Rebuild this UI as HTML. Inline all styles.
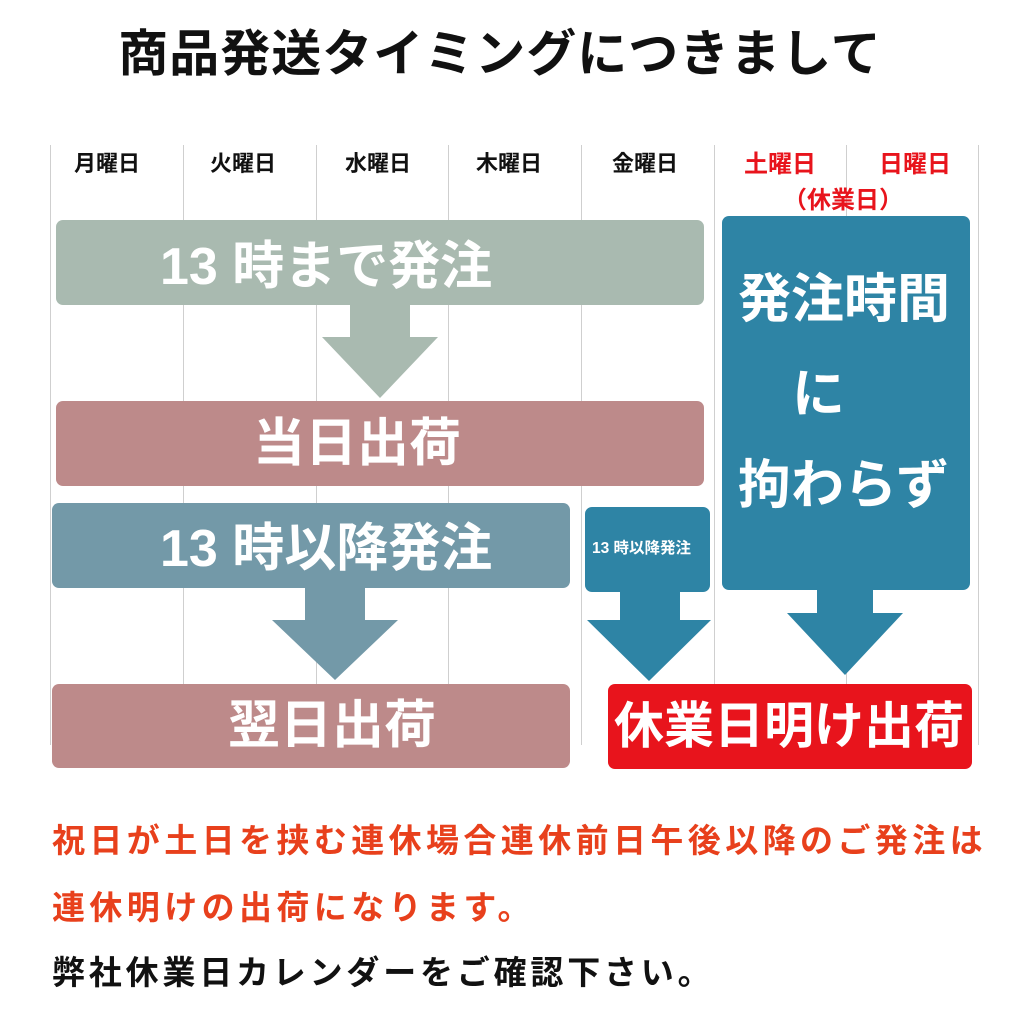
<!DOCTYPE html>
<html><head><meta charset="utf-8"><style>
body{margin:0;width:1029px;height:1029px;background:#fff;position:relative;overflow:hidden;font-family:"Liberation Sans","Noto Sans CJK JP",sans-serif;font-weight:bold}
.a{position:absolute}
.vl{position:absolute;top:145px;height:600px;width:1px;background:#cfcfcf}
.day{position:absolute;top:146px;font-size:22px;width:120px;text-align:center;color:#111}
.box{position:absolute;border-radius:7px;color:#fff}
.bt{position:absolute;white-space:nowrap;line-height:1}
.t{position:absolute;left:52px;font-size:33px;letter-spacing:4.4px;white-space:nowrap}
</style></head><body>
<div class="a" style="left:0;width:1000px;top:14px;text-align:center;font-size:50px;color:#111;letter-spacing:1px">商品発送タイミングにつきまして</div>

<div class="vl" style="left:50px"></div><div class="vl" style="left:183px"></div><div class="vl" style="left:316px"></div><div class="vl" style="left:448px"></div><div class="vl" style="left:581px"></div><div class="vl" style="left:714px"></div><div class="vl" style="left:846px"></div><div class="vl" style="left:978px"></div>

<div class="day" style="left:47px">月曜日</div>
<div class="day" style="left:183px">火曜日</div>
<div class="day" style="left:318px">水曜日</div>
<div class="day" style="left:449px">木曜日</div>
<div class="day" style="left:585px">金曜日</div>
<div class="day" style="left:720px;color:#e8141c;font-size:24px;top:144px">土曜日</div>
<div class="day" style="left:855px;color:#e8141c;font-size:24px;top:144px">日曜日</div>
<div class="day" style="left:718px;top:180px;width:250px;color:#e8141c;font-size:24px">（休業日）</div>

<svg class="a" style="left:0;top:0" width="1029" height="1029">
<polygon points="350,300 410,300 410,337 438,337 380,398 322,337 350,337" fill="#a9bab0"/>
<polygon points="305,585 365,585 365,620 398,620 335,680 272,620 305,620" fill="#7399a8"/>
<polygon points="620,590 680,590 680,620 711,620 649,681 587,620 620,620" fill="#2e84a5"/>
<polygon points="817,585 873,585 873,613 903,613 845,675 787,613 817,613" fill="#2e84a5"/>
</svg>

<div class="box" style="left:56px;top:220px;width:648px;height:85px;background:#a9bab0"></div>
<div class="bt" style="left:160px;top:241px;font-size:52px;color:#fff">13 時まで発注</div>
<div class="box" style="left:56px;top:401px;width:648px;height:85px;background:#bd8a8a"></div>
<div class="bt" style="left:253px;top:418px;font-size:52px;color:#fff">当日出荷</div>
<div class="box" style="left:52px;top:503px;width:518px;height:85px;background:#7399a8"></div>
<div class="bt" style="left:160px;top:523px;font-size:52px;color:#fff">13 時以降発注</div>
<div class="box" style="left:585px;top:507px;width:125px;height:85px;background:#2e84a5"></div>
<div class="bt" style="left:592px;top:541px;font-size:15.5px;color:#fff">13 時以降発注</div>
<div class="box" style="left:722px;top:216px;width:248px;height:374px;background:#2e84a5"></div>
<div class="bt" style="left:738px;top:273px;font-size:53px;color:#fff">発注時間</div>
<div class="bt" style="left:792px;top:368px;font-size:53px;color:#fff">に</div>
<div class="bt" style="left:738px;top:459px;font-size:53px;color:#fff">拘わらず</div>
<div class="box" style="left:52px;top:684px;width:518px;height:84px;background:#bd8a8a"></div>
<div class="bt" style="left:228px;top:700px;font-size:52px;color:#fff">翌日出荷</div>
<div class="box" style="left:608px;top:684px;width:364px;height:85px;background:#e8141c"></div>
<div class="bt" style="left:614px;top:701px;font-size:50px;color:#fff">休業日明け出荷</div>

<div class="t" style="top:814px;color:#e8401c">祝日が土日を挟む連休場合連休前日午後以降のご発注は</div>
<div class="t" style="top:881px;color:#e8401c">連休明けの出荷になります。</div>
<div class="t" style="top:946px;color:#111;letter-spacing:3.8px">弊社休業日カレンダーをご確認下さい。</div>
</body></html>
